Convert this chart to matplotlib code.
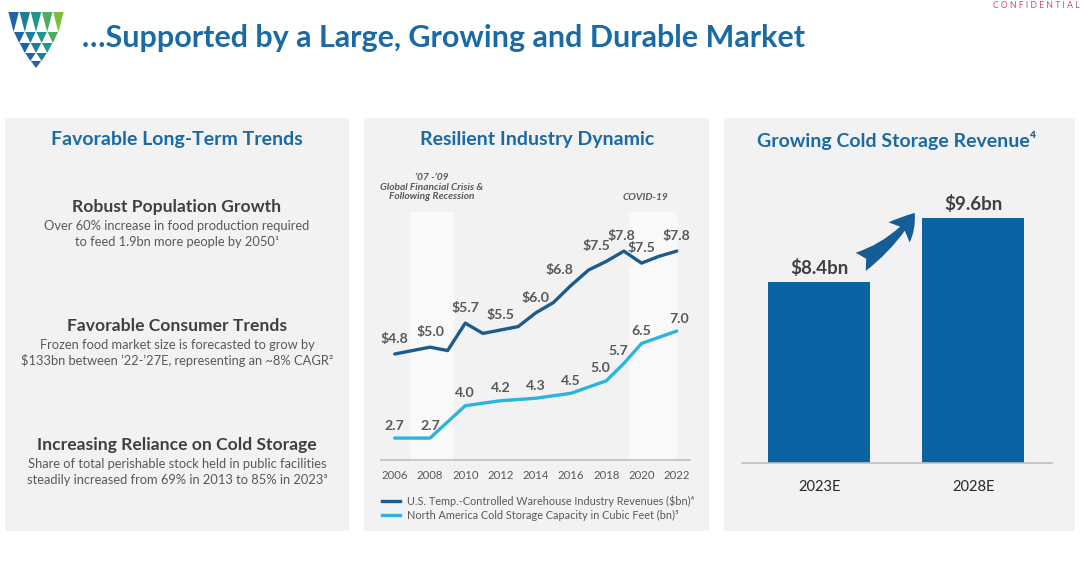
import matplotlib
matplotlib.use('Agg')
import matplotlib.pyplot as plt
from matplotlib.patches import Rectangle, Polygon, FancyArrowPatch
import numpy as np

plt.rcParams['font.family'] = ['Lato', 'DejaVu Sans']
plt.rcParams['text.parse_math'] = False

# Chart data
years = list(range(2006, 2023))
revenue = [4.8, 4.9, 5.0, 4.9, 5.7, 5.4, 5.5, 5.6, 6.0, 6.3, 6.8, 7.25, 7.5, 7.8, 7.45, 7.65, 7.8]
capacity = [2.7, 2.7, 2.7, 3.35, 4.0, 4.1, 4.2, 4.25, 4.3, 4.4, 4.5, 4.75, 5.0, 5.7, 6.5, 6.75, 7.0]
revenue_label_years = [2006, 2008, 2010, 2012, 2014, 2016, 2018, 2019, 2020, 2022]
capacity_label_years = [2006, 2008, 2010, 2012, 2014, 2016, 2018, 2019, 2020, 2022]
tick_years = [2006, 2008, 2010, 2012, 2014, 2016, 2018, 2020, 2022]
recession_span = (2006.85, 2009.35)
covid_span = (2019.3, 2022.0)

bar_labels = ['2023E', '2028E']
bar_values = [8.4, 9.6]

trend_heads = ['Robust Population Growth', 'Favorable Consumer Trends',
               'Increasing Reliance on Cold Storage']
trend_bodies = [
    'Over 60% increase in food production required\nto feed 1.9bn more people by 2050\u00b9',
    'Frozen food market size is forecasted to grow by\n$133bn between \u201922-\u201927E, representing an ~8% CAGR\u00b2',
    'Share of total perishable stock held in public facilities\nsteadily increased from 69% in 2013 to 85% in 2023\u00b3',
]

# Colours
TITLE_BLUE = '#1a6aa5'
DARK_LINE = '#1b5b8e'
LIGHT_LINE = '#2cb4dc'
BAR_BLUE = '#0a63a3'
GRAY_TXT = '#595959'
HEAD_TXT = '#404040'
PANEL_BG = '#f2f2f2'

W, H = 1080, 568
fig = plt.figure(figsize=(W / 100, H / 100), dpi=100)
fig.patch.set_facecolor('white')

bg = fig.add_axes([0, 0, 1, 1])
bg.set_xlim(0, W)
bg.set_ylim(H, 0)
bg.axis('off')


def px_axes(x0, y0, x1, y1):
    a = fig.add_axes([x0 / W, 1 - y1 / H, (x1 - x0) / W, (y1 - y0) / H])
    a.set_facecolor('none')
    return a


# Panels
for x0, x1 in [(5, 349), (364, 709), (724, 1075)]:
    bg.add_patch(Rectangle((x0, 118), x1 - x0, 413, facecolor=PANEL_BG, edgecolor='none'))

# Logo: shield made of downward triangles, blue -> teal -> green
stops = [np.array([0x1e, 0x62, 0xac]) / 255, np.array([0x1b, 0x98, 0x8c]) / 255,
         np.array([0x7c, 0xbe, 0x3a]) / 255]


def logo_col(t):
    t = min(1, max(0, t))
    if t < 0.5:
        return stops[0] * (1 - 2 * t) + stops[1] * 2 * t
    return stops[1] * (2 - 2 * t) + stops[2] * (2 * t - 1)


tw = 11.2
row_tops = [12, 32, 43, 53, 61]
row_h = [20, 11, 10, 8, 7]
for r in range(5):
    for c in range(5 - r):
        x = 8 + r * tw / 2 + c * tw
        y = row_tops[r]
        t = (x + tw / 2 - 13) / 45 - r * 0.12
        bg.add_patch(Polygon([(x + 0.4, y), (x + tw - 0.4, y), (x + tw / 2, y + row_h[r])],
                             closed=True, facecolor=logo_col(t), edgecolor='none'))

# Page title and marker
bg.text(82, 38, '\u2026Supported by a Large, Growing and Durable Market', fontsize=22,
        fontweight='bold', color=TITLE_BLUE, va='center', ha='left')
bg.text(993, 6, 'C O N F I D E N T I A L', fontsize=6.2, color='#c8506e', va='center', ha='left')

# Left panel text
bg.text(177, 140, 'Favorable Long-Term Trends', fontsize=14, fontweight='bold',
        color=TITLE_BLUE, ha='center', va='center')
for head, body, yh in zip(trend_heads, trend_bodies, [207, 326, 445]):
    bg.text(177, yh, head, fontsize=12.6, fontweight='bold', color=HEAD_TXT, ha='center', va='center')
    bg.text(177, yh + 27, body, fontsize=9.3, color=GRAY_TXT, ha='center', va='center',
            linespacing=1.35)

# Middle panel: line chart
bg.text(537, 140, 'Resilient Industry Dynamic', fontsize=14, fontweight='bold',
        color=TITLE_BLUE, ha='center', va='center')
ax = px_axes(381, 212, 690, 460)
ax.set_xlim(2005.22, 2022.75)
ax.set_ylim(1.71, 8.94)
ax2 = ax.twinx()
ax2.set_ylim(1.82, 11.78)
ax.axvspan(*recession_span, color='white', alpha=0.6, lw=0, zorder=0)
ax.axvspan(*covid_span, color='white', alpha=0.6, lw=0, zorder=0)

ax.plot(years, revenue, color=DARK_LINE, lw=2.4, solid_joinstyle='round', solid_capstyle='round')
ax2.plot(years, capacity, color=LIGHT_LINE, lw=2.4, solid_joinstyle='round', solid_capstyle='round')

rev_dx = {2016: -12, 2018: -10, 2019: -3}
for yr in revenue_label_years:
    v = revenue[years.index(yr)]
    ax.annotate(f'${v:.1f}', (yr, v), xytext=(rev_dx.get(yr, 0) * 0.72, 11), textcoords='offset points',
                ha='center', va='center', fontsize=10.2, fontweight='bold', color=GRAY_TXT)
cap_dx = {2018: -6, 2019: -6, 2022: 2}
for yr in capacity_label_years:
    v = capacity[years.index(yr)]
    ax2.annotate(f'{v:.1f}', (yr, v), xytext=(cap_dx.get(yr, 0) * 0.72, 9), textcoords='offset points',
                 ha='center', va='center', fontsize=10.2, fontweight='bold', color=GRAY_TXT)

for a in (ax, ax2):
    for s in ['top', 'right', 'left']:
        a.spines[s].set_visible(False)
    a.set_yticks([])
ax2.spines['bottom'].set_visible(False)
ax.spines['bottom'].set_color('#bfbfbf')
ax.spines['bottom'].set_linewidth(1.2)
ax.set_xticks(tick_years)
ax.set_xticklabels([str(y) for y in tick_years])
ax.tick_params(axis='x', length=0, pad=7, labelsize=8.2, labelcolor=GRAY_TXT)

bg.text(432, 187, '\u201907 -\u201909\nGlobal Financial Crisis &\nFollowing Recession',
        fontsize=7.3, fontstyle='italic', fontweight='bold', color=GRAY_TXT, ha='center', va='center',
        linespacing=1.1)
bg.text(645, 197, 'COVID-19', fontsize=7.3, fontstyle='italic', fontweight='bold',
        color=GRAY_TXT, ha='center', va='center')

# Legend
bg.plot([382, 400], [501, 501], color=DARK_LINE, lw=2.4)
bg.plot([382, 400], [515, 515], color=LIGHT_LINE, lw=2.4)
bg.text(407, 501, 'U.S. Temp.-Controlled Warehouse Industry Revenues ($bn)\u2074', fontsize=7.85,
        color=GRAY_TXT, va='center', ha='left')
bg.text(407, 515, 'North America Cold Storage Capacity in Cubic Feet (bn)\u2075', fontsize=7.85,
        color=GRAY_TXT, va='center', ha='left')

# Right panel: bar chart
bg.text(897, 140, 'Growing Cold Storage Revenue\u2074', fontsize=14, fontweight='bold',
        color=TITLE_BLUE, ha='center', va='center')
axr = px_axes(742, 190, 1052, 463)
axr.set_xlim(-0.5, 1.51)
axr.set_ylim(5, 10.13)
xs = np.arange(len(bar_values))
axr.bar(xs, bar_values, width=0.66, color=BAR_BLUE)
for x, v in zip(xs, bar_values):
    axr.annotate(f'${v:.1f}bn', (x, v), xytext=(0, 10), textcoords='offset points',
                 ha='center', va='center', fontsize=13.5, fontweight='bold', color=HEAD_TXT)
for s in ['top', 'right', 'left']:
    axr.spines[s].set_visible(False)
axr.spines['bottom'].set_color('#bfbfbf')
axr.spines['bottom'].set_linewidth(1.2)
axr.set_yticks([])
axr.set_xticks(xs)
axr.set_xticklabels(bar_labels)
axr.tick_params(axis='x', length=0, pad=12, labelsize=10.5, labelcolor='#262626')

arrow = FancyArrowPatch((0.27, 8.78), (0.62, 9.7), connectionstyle='arc3,rad=0.12',
                        arrowstyle='fancy,head_length=0.6,head_width=0.7,tail_width=0.5',
                        mutation_scale=30, color='#155d97', lw=0, shrinkA=0, shrinkB=0)
axr.add_patch(arrow)

fig.savefig('out.png', dpi=100, facecolor='white')
